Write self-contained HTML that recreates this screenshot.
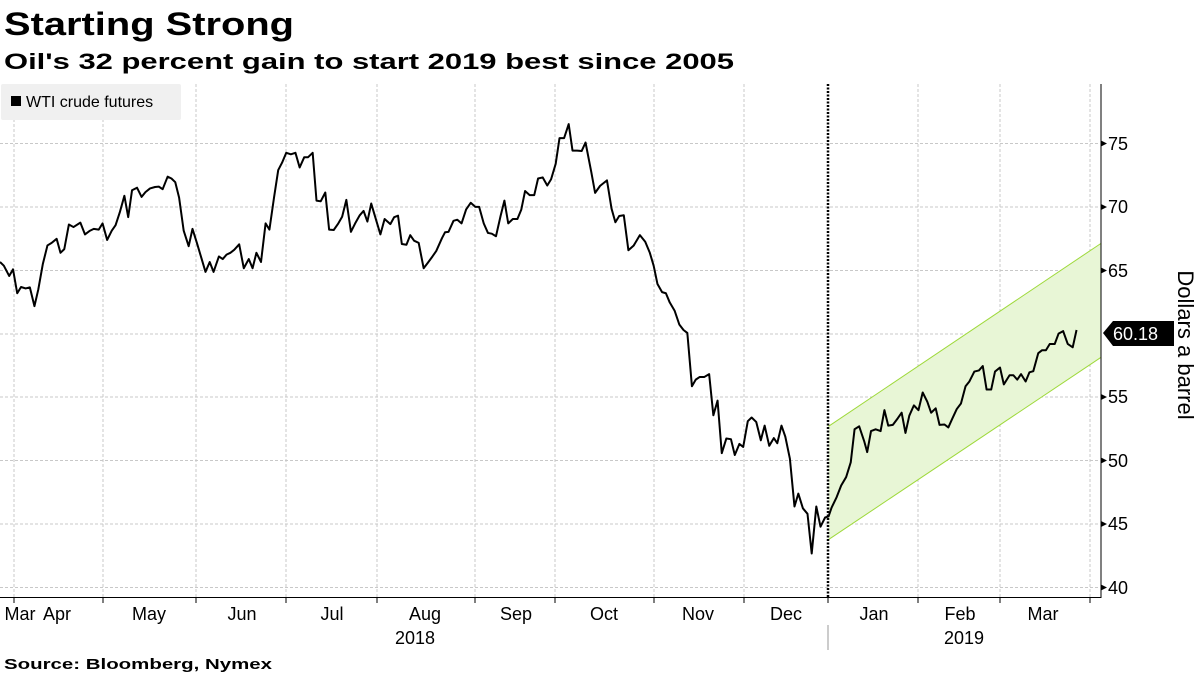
<!DOCTYPE html>
<html><head><meta charset="utf-8"><style>
html,body{margin:0;padding:0;background:#fff;}
svg{display:block;font-family:"Liberation Sans",sans-serif;}
</style></head><body>
<svg width="1200" height="675" viewBox="0 0 1200 675">
<text x="4" y="35" font-size="32" font-weight="bold" textLength="290" lengthAdjust="spacingAndGlyphs">Starting Strong</text>
<text x="4" y="69" font-size="22" font-weight="bold" textLength="730" lengthAdjust="spacingAndGlyphs">Oil's 32 percent gain to start 2019 best since 2005</text>
<g stroke="#c8c8c8" stroke-width="1" stroke-dasharray="3,2">
<line x1="0" x2="1100" y1="143.5" y2="143.5"/><line x1="0" x2="1100" y1="207" y2="207"/><line x1="0" x2="1100" y1="270.5" y2="270.5"/><line x1="0" x2="1100" y1="334" y2="334"/><line x1="0" x2="1100" y1="397" y2="397"/><line x1="0" x2="1100" y1="460.5" y2="460.5"/><line x1="0" x2="1100" y1="524" y2="524"/><line x1="0" x2="1100" y1="587.5" y2="587.5"/>
<line x1="14" x2="14" y1="84" y2="597"/><line x1="103" x2="103" y1="84" y2="597"/><line x1="196" x2="196" y1="84" y2="597"/><line x1="286" x2="286" y1="84" y2="597"/><line x1="377" x2="377" y1="84" y2="597"/><line x1="475" x2="475" y1="84" y2="597"/><line x1="555" x2="555" y1="84" y2="597"/><line x1="654" x2="654" y1="84" y2="597"/><line x1="744" x2="744" y1="84" y2="597"/><line x1="918" x2="918" y1="84" y2="597"/><line x1="1000" x2="1000" y1="84" y2="597"/><line x1="1090" x2="1090" y1="84" y2="597"/>
</g>
<g transform="translate(0,80) scale(0.38270,0.36765)">
<polygon points="2165,942 2876,445 2876,755 2165,1250" fill="#e8f6d6"/>
<line x1="2165" y1="942" x2="2876" y2="445" stroke="#9ed93a" stroke-width="1" vector-effect="non-scaling-stroke"/>
<line x1="2165" y1="1250" x2="2876" y2="755" stroke="#9ed93a" stroke-width="1" vector-effect="non-scaling-stroke"/>
<polyline fill="none" stroke="#000" stroke-width="2" stroke-linejoin="round" vector-effect="non-scaling-stroke" points="0,495 10,505 24,533 34,515 45,580 55,563 67,567 78,564 90,615 100,570 112,500 124,450 135,443 148,432 158,470 168,460 180,393 192,400 210,388 222,420 235,410 245,405 258,407 268,390 280,435 292,410 302,395 313,360 325,315 335,373 345,300 358,293 370,318 380,305 392,295 405,291 415,290 425,297 438,263 448,268 458,278 468,320 480,410 493,452 503,405 515,445 525,480 537,522 548,495 558,522 572,480 582,487 592,475 602,470 612,462 625,447 637,512 650,487 660,512 670,470 682,495 694,390 704,407 716,320 727,245 737,225 748,198 760,202 772,198 783,238 795,210 805,210 817,198 827,328 838,330 850,306 860,407 872,408 884,390 894,372 905,326 917,413 928,390 940,368 950,356 960,385 970,336 984,385 994,420 1005,378 1020,392 1030,373 1040,369 1050,446 1062,448 1072,422 1082,437 1094,443 1107,512 1118,497 1130,480 1140,465 1155,430 1163,414 1172,413 1185,383 1195,380 1206,390 1218,352 1230,334 1242,345 1252,345 1264,390 1275,416 1285,418 1296,425 1308,370 1318,328 1328,390 1340,378 1352,378 1362,353 1372,302 1384,313 1396,313 1406,268 1418,265 1430,287 1440,270 1452,228 1462,158 1474,158 1486,120 1496,192 1508,192 1520,193 1530,170 1545,250 1555,307 1568,288 1586,273 1598,350 1608,387 1618,370 1630,368 1642,463 1656,450 1672,422 1686,440 1698,470 1708,505 1718,555 1730,577 1740,580 1750,605 1763,628 1775,665 1786,680 1796,688 1808,833 1818,815 1828,808 1840,808 1853,800 1864,912 1875,872 1886,1015 1898,975 1910,977 1920,1020 1932,990 1942,998 1954,928 1964,918 1976,930 1988,980 1998,940 2010,995 2022,974 2031,988 2042,940 2052,970 2064,1030 2076,1160 2086,1125 2098,1165 2110,1180 2121,1288 2133,1160 2144,1215 2156,1190 2165,1187 2173,1163 2186,1135 2198,1103 2211,1080 2223,1040 2233,950 2245,942 2258,982 2266,1012 2276,955 2288,950 2301,955 2311,898 2321,940 2333,938 2346,920 2356,905 2366,960 2376,913 2388,885 2400,898 2411,850 2423,875 2433,905 2445,893 2455,938 2468,937 2478,945 2488,922 2500,895 2511,880 2523,833 2533,820 2546,793 2558,790 2568,778 2578,842 2590,842 2600,793 2613,782 2623,828 2638,803 2648,803 2658,815 2668,800 2680,820 2690,795 2700,792 2713,743 2723,735 2733,735 2743,718 2756,718 2766,690 2778,683 2790,718 2803,727 2813,680"/>
</g>
<line x1="828" x2="828" y1="84" y2="598" stroke="#000" stroke-width="2.5" stroke-dasharray="2,1.5"/>
<line x1="1101" x2="1101" y1="84" y2="598" stroke="#000" stroke-width="1"/>
<line x1="0" x2="1101" y1="597.5" y2="597.5" stroke="#000" stroke-width="1"/>
<g stroke="#000" stroke-width="1">
<line x1="14" x2="14" y1="597" y2="603"/><line x1="103" x2="103" y1="597" y2="603"/><line x1="196" x2="196" y1="597" y2="603"/><line x1="286" x2="286" y1="597" y2="603"/><line x1="377" x2="377" y1="597" y2="603"/><line x1="475" x2="475" y1="597" y2="603"/><line x1="555" x2="555" y1="597" y2="603"/><line x1="654" x2="654" y1="597" y2="603"/><line x1="744" x2="744" y1="597" y2="603"/><line x1="828" x2="828" y1="597" y2="603"/><line x1="918" x2="918" y1="597" y2="603"/><line x1="1000" x2="1000" y1="597" y2="603"/><line x1="1090" x2="1090" y1="597" y2="603"/>
<line x1="828" x2="828" y1="625" y2="650" stroke="#999"/>
</g>
<g font-size="18" fill="#000">
<path d="M1101,140.5 l6,3 -6,3z M1101,204 l6,3 -6,3z M1101,267.5 l6,3 -6,3z M1101,394 l6,3 -6,3z M1101,457.5 l6,3 -6,3z M1101,521 l6,3 -6,3z M1101,584.5 l6,3 -6,3z"/>
<text x="1108" y="150">75</text><text x="1108" y="213">70</text><text x="1108" y="277">65</text><text x="1108" y="403">55</text><text x="1108" y="467">50</text><text x="1108" y="530">45</text><text x="1108" y="594">40</text>
<path d="M1103,333 l10,-12 h61 v25 h-61z"/>
<text x="1113" y="340" fill="#fff">60.18</text>
<text transform="translate(1178,345) rotate(90)" text-anchor="middle" font-size="22">Dollars a barrel</text>
</g>
<g font-size="18" text-anchor="middle">
<text x="20" y="620">Mar</text><text x="57" y="620">Apr</text><text x="149" y="620">May</text><text x="242" y="620">Jun</text><text x="332" y="620">Jul</text><text x="425" y="620">Aug</text><text x="516" y="620">Sep</text><text x="604" y="620">Oct</text><text x="698" y="620">Nov</text><text x="786" y="620">Dec</text><text x="874" y="620">Jan</text><text x="960" y="620">Feb</text><text x="1043" y="620">Mar</text>
<text x="415" y="644">2018</text><text x="964" y="644">2019</text>
</g>
<rect x="1" y="84" width="180" height="36" rx="2" fill="#f0f0f0"/>
<rect x="11" y="96" width="10" height="10" fill="#000"/>
<text x="26" y="107" font-size="16">WTI crude futures</text>
<text x="4" y="669" font-size="15" font-weight="bold" textLength="268" lengthAdjust="spacingAndGlyphs">Source: Bloomberg, Nymex</text>
</svg>
</body></html>
